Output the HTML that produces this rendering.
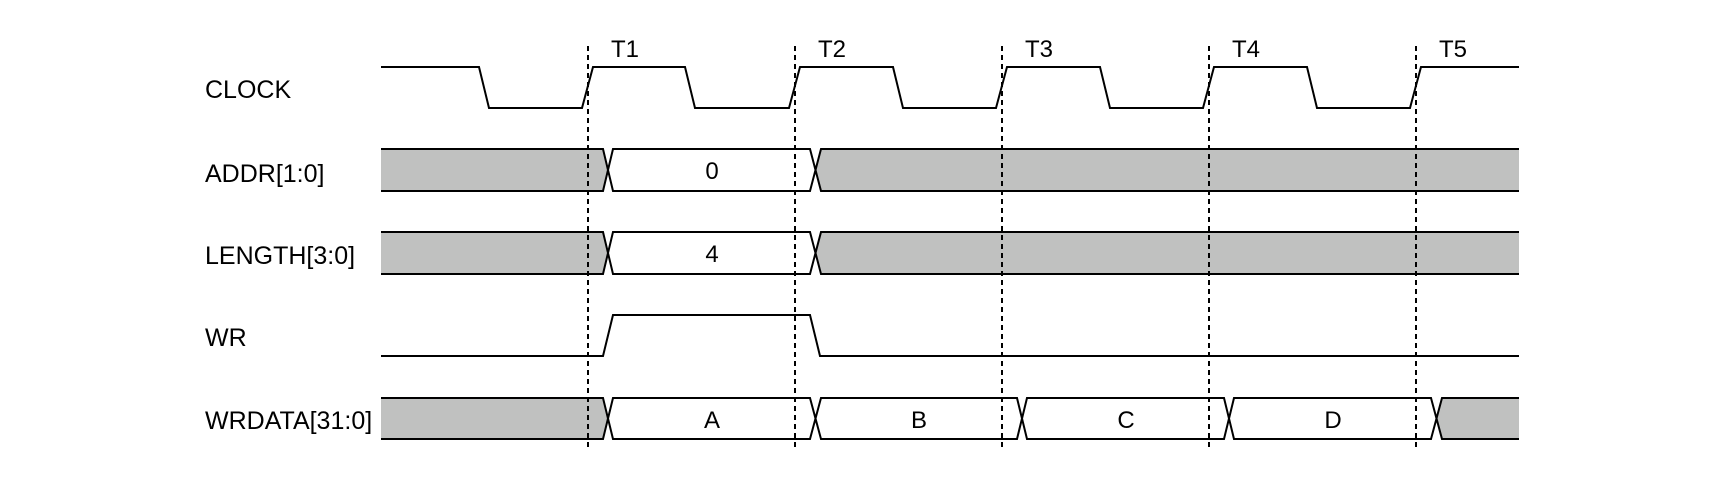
<!DOCTYPE html>
<html><head><style>
html,body{margin:0;padding:0;background:#fff;}
svg{display:block;}
text{font-family:"Liberation Sans",Arial,sans-serif;font-size:24px;fill:#000;}
</style></head><body>
<svg width="1730" height="484" viewBox="0 0 1730 484">
<g stroke="#000" stroke-width="2" fill="none">
<polyline points="381,67 479,67 489,108 582,108 593,67 685,67 695,108 789,108 800,67 893,67 903,108 996,108 1007,67 1100,67 1110,108 1203,108 1214,67 1307,67 1317,108 1410,108 1421,67 1519,67"/>
<polyline points="381,356 603,356 613,315 810,315 820,356 1519,356"/>
</g>
<g stroke="#000" stroke-width="2">
<polygon points="381,149 603,149 608,170 603,191 381,191" fill="#c0c1c0" stroke="none"/>
<polygon points="816,170 821,149 1519,149 1519,191 821,191" fill="#c0c1c0" stroke="none"/>
<polyline fill="none" points="381,149 603,149 613,191 810,191 821,149 1519,149"/>
<polyline fill="none" points="381,191 603,191 613,149 810,149 821,191 1519,191"/>
<polygon points="381,232 603,232 608,253 603,274 381,274" fill="#c0c1c0" stroke="none"/>
<polygon points="816,253 821,232 1519,232 1519,274 821,274" fill="#c0c1c0" stroke="none"/>
<polyline fill="none" points="381,232 603,232 613,274 810,274 821,232 1519,232"/>
<polyline fill="none" points="381,274 603,274 613,232 810,232 821,274 1519,274"/>
<polygon points="381,398 603,398 608,419 603,439 381,439" fill="#c0c1c0" stroke="none"/>
<polygon points="1437,419 1442,398 1519,398 1519,439 1442,439" fill="#c0c1c0" stroke="none"/>
<polyline fill="none" points="381,398 603,398 613,439 810,439 821,398 1017,398 1027,439 1224,439 1234,398 1431,398 1442,439 1519,439"/>
<polyline fill="none" points="381,439 603,439 613,398 810,398 821,439 1017,439 1027,398 1224,398 1234,439 1431,439 1442,398 1519,398"/>
</g>
<g stroke="#000" stroke-width="2" stroke-dasharray="5,4">
<line x1="588" y1="46" x2="588" y2="448"/>
<line x1="795" y1="46" x2="795" y2="448"/>
<line x1="1002" y1="46" x2="1002" y2="448"/>
<line x1="1209" y1="46" x2="1209" y2="448"/>
<line x1="1416" y1="46" x2="1416" y2="448"/>
</g>
<text x="611" y="57">T1</text>
<text x="818" y="57">T2</text>
<text x="1025" y="57">T3</text>
<text x="1232" y="57">T4</text>
<text x="1439" y="57">T5</text>
<text x="205" y="98" style="font-size:25px">CLOCK</text>
<text x="205" y="182" style="font-size:25px">ADDR[1:0]</text>
<text x="205" y="264" style="font-size:25px">LENGTH[3:0]</text>
<text x="205" y="346" style="font-size:25px">WR</text>
<text x="205" y="429" style="font-size:25px">WRDATA[31:0]</text>
<g text-anchor="middle">
<text x="712" y="179">0</text>
<text x="712" y="262">4</text>
<text x="712" y="428">A</text>
<text x="919" y="428">B</text>
<text x="1126" y="428">C</text>
<text x="1333" y="428">D</text>
</g>
</svg>
</body></html>
